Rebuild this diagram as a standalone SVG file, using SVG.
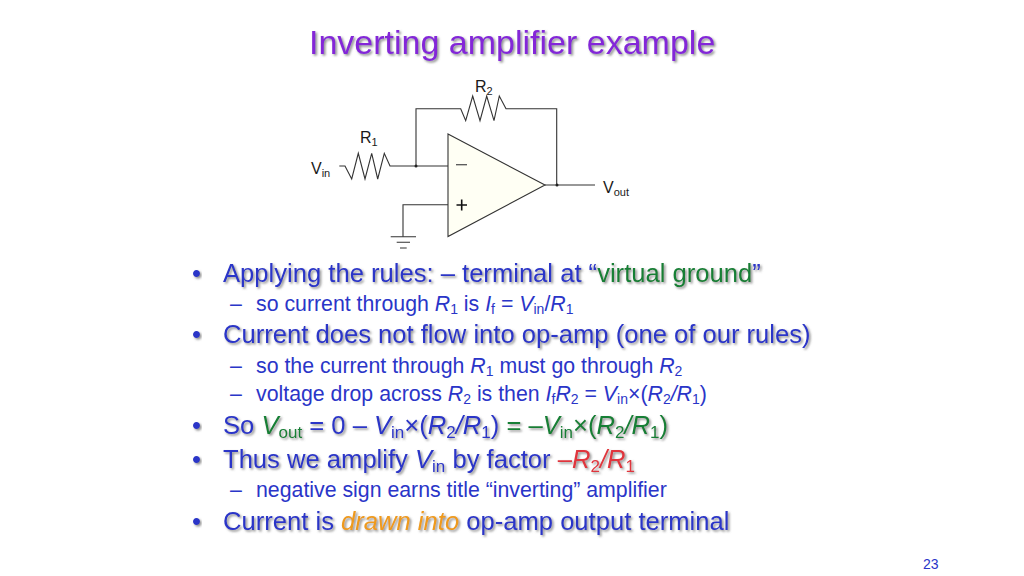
<svg xmlns="http://www.w3.org/2000/svg" width="1024" height="576" viewBox="0 0 1024 576">
<style>
text{font-family:"Liberation Sans",Arial,sans-serif;white-space:pre}
.w{fill:none;stroke:#333;stroke-width:1.1}
.l{font-size:16px;fill:#1a1a1a}
.s{font-size:11px}
.big{font-size:25.6px;fill:#2a35c8;filter:url(#sh)}
.sub{font-size:21.3px;fill:#2a35c8}
.t{font-size:34px;fill:#8428d8;filter:url(#sh)}
.g{fill:#157f35}.r{fill:#e0343c}.o{fill:#ee9a1c}
.i{font-style:italic}
</style>
<defs>
<filter id="sh" x="-5%" y="-20%" width="110%" height="150%"><feDropShadow dx="1.6" dy="1.6" stdDeviation="0.8" flood-color="#777" flood-opacity="0.85"/></filter>
</defs>
<rect width="1024" height="576" fill="#fff"/>
<text id="title" class="t" x="309" y="54">Inverting amplifier example</text>
<g id="connectors">
<path class="w" d="M339.3 166H345L351.7 179L358.3 153.3L365 179L371.7 153.3L377.7 179L384.3 153.3L390 166H448"/>
<path class="w" d="M416 166V108.7H460.7L465.7 120.7L472.7 96L480 120.7L486.7 96L494 120.7L499.3 96L506 108.7H556.7V185"/>
<path class="w" d="M545 185H595"/>
<path class="w" d="M448 204.7H403V236.7"/>
<path class="w" d="M390.7 236.7H416M396.7 242.3H410M400 248H406.7"/>
<circle cx="416" cy="166" r="1.5" fill="#222"/>
<circle cx="557" cy="185" r="1.5" fill="#222"/>
</g>
<g id="opamp">
<path d="M448 134L545 185L448 236.5Z" fill="#fffff4" stroke="#333" stroke-width="1.1"/>
<path d="M456 164.7H467" fill="none" stroke="#555" stroke-width="1.3"/>
<path d="M456.5 205H467M461.7 199.5V210.5" fill="none" stroke="#111" stroke-width="1.6"/>
</g>
<g id="labels">
<text class="l" x="475" y="92">R<tspan class="s" dy="3">2</tspan></text>
<text class="l" x="360" y="143">R<tspan class="s" dy="3">1</tspan></text>
<text class="l" x="311" y="174">V<tspan class="s" dy="3">in</tspan></text>
<text class="l" x="603" y="193">V<tspan class="s" dy="3">out</tspan></text>
</g>
<g id="text">
<text class="big" x="192" y="282">•</text>
<text class="big" x="223" y="282">Applying the rules: – terminal at “<tspan class="g">virtual ground</tspan>”</text>
<text class="sub" x="230" y="311">–</text>
<text class="sub" x="256" y="311">so current through <tspan class="i">R</tspan><tspan font-size="14" dy="3">1</tspan><tspan dy="-3"> is </tspan><tspan class="i">I</tspan><tspan font-size="14" dy="3">f</tspan><tspan dy="-3"> = </tspan><tspan class="i">V</tspan><tspan font-size="14" dy="3">in</tspan><tspan dy="-3">/</tspan><tspan class="i">R</tspan><tspan font-size="14" dy="3">1</tspan></text>
<text class="big" x="192" y="343">•</text>
<text class="big" x="223" y="343">Current does not flow into op-amp (one of our rules)</text>
<text class="sub" x="230" y="373">–</text>
<text class="sub" x="256" y="373">so the current through <tspan class="i">R</tspan><tspan font-size="14" dy="3">1</tspan><tspan dy="-3"> must go through </tspan><tspan class="i">R</tspan><tspan font-size="14" dy="3">2</tspan></text>
<text class="sub" x="230" y="401">–</text>
<text class="sub" x="256" y="401">voltage drop across <tspan class="i">R</tspan><tspan font-size="14" dy="3">2</tspan><tspan dy="-3"> is then </tspan><tspan class="i">I</tspan><tspan font-size="14" dy="3">f</tspan><tspan class="i" dy="-3">R</tspan><tspan font-size="14" dy="3">2</tspan><tspan dy="-3"> = </tspan><tspan class="i">V</tspan><tspan font-size="14" dy="3">in</tspan><tspan dy="-3">×(</tspan><tspan class="i">R</tspan><tspan font-size="14" dy="3">2</tspan><tspan class="i" dy="-3">/R</tspan><tspan font-size="14" dy="3">1</tspan><tspan dy="-3">)</tspan></text>
<text class="big" x="192" y="434">•</text>
<text class="big" x="223" y="434">So <tspan class="g i">V</tspan><tspan class="g" font-size="17" dy="4">out</tspan><tspan dy="-4"> = 0 – </tspan><tspan class="i">V</tspan><tspan font-size="17" dy="4">in</tspan><tspan dy="-4">×(</tspan><tspan class="i">R</tspan><tspan font-size="17" dy="4">2</tspan><tspan class="i" dy="-4">/R</tspan><tspan font-size="17" dy="4">1</tspan><tspan dy="-4">) </tspan><tspan class="g">= –</tspan><tspan class="g i">V</tspan><tspan class="g" font-size="17" dy="4">in</tspan><tspan class="g" dy="-4">×(</tspan><tspan class="g i">R</tspan><tspan class="g" font-size="17" dy="4">2</tspan><tspan class="g i" dy="-4">/R</tspan><tspan class="g" font-size="17" dy="4">1</tspan><tspan class="g" dy="-4">)</tspan></text>
<text class="big" x="192" y="468">•</text>
<text class="big" x="223" y="468">Thus we amplify <tspan class="i">V</tspan><tspan font-size="17" dy="4">in</tspan><tspan dy="-4"> by factor </tspan><tspan class="r">–</tspan><tspan class="r i">R</tspan><tspan class="r" font-size="17" dy="4">2</tspan><tspan class="r i" dy="-4">/R</tspan><tspan class="r" font-size="17" dy="4">1</tspan></text>
<text class="sub" x="230" y="497">–</text>
<text class="sub" x="256" y="497">negative sign earns title “inverting” amplifier</text>
<text class="big" x="192" y="530">•</text>
<text class="big" x="223" y="530">Current is <tspan class="o i">drawn into</tspan> op-amp output terminal</text>
</g>
<text id="page" x="923" y="569" font-size="14" fill="#2a35c8">23</text>
</svg>
